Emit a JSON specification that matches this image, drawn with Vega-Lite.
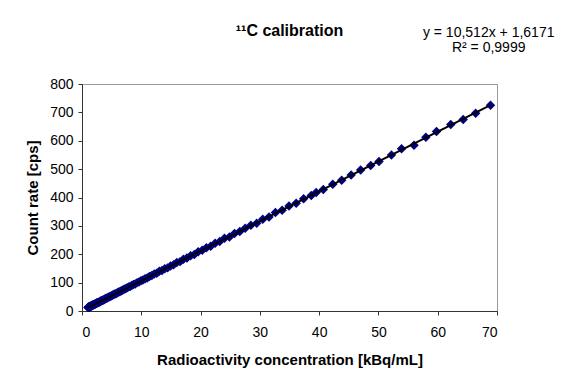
{
  "$schema": "https://vega.github.io/schema/vega-lite/v6.json",
  "autosize": "none",
  "width": 415,
  "height": 227,
  "padding": {"left": 82, "top": 84, "right": 73, "bottom": 78},
  "background": "white",
  "config": {
    "font": "Liberation Sans",
    "view": {"stroke": "#999999", "strokeWidth": 1},
    "axis": {
      "grid": false,
      "domainColor": "#333333",
      "tickColor": "#333333",
      "tickSize": 4,
      "labelFont": "Liberation Sans",
      "labelFontSize": 14,
      "labelColor": "black",
      "titleFont": "Liberation Sans",
      "titleFontSize": 15,
      "titleFontWeight": "bold",
      "titleColor": "black"
    }
  },
  "title": {
    "text": "¹¹C calibration",
    "font": "Liberation Sans",
    "fontSize": 16,
    "fontWeight": "bold",
    "color": "black",
    "anchor": "middle",
    "frame": "group",
    "baseline": "alphabetic",
    "offset": -26
  },
  "data": {
    "values": [
      {"activity": 68.9, "rate": 725},
      {"activity": 66.4, "rate": 697},
      {"activity": 64.3, "rate": 675},
      {"activity": 62.2, "rate": 657},
      {"activity": 59.8, "rate": 633},
      {"activity": 58.0, "rate": 612},
      {"activity": 56.0, "rate": 584},
      {"activity": 53.9, "rate": 572},
      {"activity": 52.2, "rate": 550},
      {"activity": 50.1, "rate": 527},
      {"activity": 48.7, "rate": 513},
      {"activity": 47.0, "rate": 497},
      {"activity": 45.4, "rate": 479},
      {"activity": 43.8, "rate": 461},
      {"activity": 42.3, "rate": 447},
      {"activity": 40.7, "rate": 428},
      {"activity": 39.5, "rate": 418},
      {"activity": 38.67, "rate": 407},
      {"activity": 37.38, "rate": 396},
      {"activity": 36.13, "rate": 380},
      {"activity": 34.92, "rate": 370},
      {"activity": 33.76, "rate": 355},
      {"activity": 32.63, "rate": 347},
      {"activity": 31.54, "rate": 331},
      {"activity": 30.49, "rate": 323},
      {"activity": 29.47, "rate": 309},
      {"activity": 28.49, "rate": 302},
      {"activity": 27.53, "rate": 292},
      {"activity": 26.61, "rate": 280},
      {"activity": 25.72, "rate": 273},
      {"activity": 24.87, "rate": 261},
      {"activity": 24.04, "rate": 256},
      {"activity": 23.23, "rate": 245},
      {"activity": 22.46, "rate": 239},
      {"activity": 21.71, "rate": 228},
      {"activity": 20.98, "rate": 223},
      {"activity": 20.28, "rate": 214},
      {"activity": 19.6, "rate": 209},
      {"activity": 18.95, "rate": 199},
      {"activity": 18.32, "rate": 195},
      {"activity": 17.7, "rate": 187},
      {"activity": 17.11, "rate": 182},
      {"activity": 16.54, "rate": 174},
      {"activity": 15.99, "rate": 171},
      {"activity": 15.46, "rate": 163},
      {"activity": 14.94, "rate": 159},
      {"activity": 14.44, "rate": 152},
      {"activity": 13.96, "rate": 149},
      {"activity": 13.49, "rate": 143},
      {"activity": 13.04, "rate": 140},
      {"activity": 12.61, "rate": 133},
      {"activity": 12.18, "rate": 130},
      {"activity": 11.78, "rate": 125},
      {"activity": 11.38, "rate": 122},
      {"activity": 11.0, "rate": 116},
      {"activity": 10.64, "rate": 114},
      {"activity": 10.28, "rate": 109},
      {"activity": 9.94, "rate": 107},
      {"activity": 9.61, "rate": 102},
      {"activity": 9.29, "rate": 100},
      {"activity": 8.98, "rate": 95},
      {"activity": 8.68, "rate": 93},
      {"activity": 8.39, "rate": 90},
      {"activity": 8.11, "rate": 86},
      {"activity": 7.84, "rate": 85},
      {"activity": 7.57, "rate": 81},
      {"activity": 7.32, "rate": 78},
      {"activity": 7.08, "rate": 77},
      {"activity": 6.84, "rate": 73},
      {"activity": 6.61, "rate": 71},
      {"activity": 6.39, "rate": 68},
      {"activity": 6.18, "rate": 67},
      {"activity": 5.97, "rate": 64},
      {"activity": 5.77, "rate": 62},
      {"activity": 5.58, "rate": 60},
      {"activity": 5.39, "rate": 59},
      {"activity": 5.21, "rate": 56},
      {"activity": 5.04, "rate": 55},
      {"activity": 4.87, "rate": 52},
      {"activity": 4.71, "rate": 51},
      {"activity": 4.55, "rate": 49},
      {"activity": 4.4, "rate": 48},
      {"activity": 4.25, "rate": 46},
      {"activity": 4.11, "rate": 45},
      {"activity": 3.97, "rate": 43},
      {"activity": 3.84, "rate": 42},
      {"activity": 3.71, "rate": 40},
      {"activity": 3.59, "rate": 39},
      {"activity": 3.47, "rate": 38},
      {"activity": 3.35, "rate": 37},
      {"activity": 3.24, "rate": 35},
      {"activity": 3.13, "rate": 35},
      {"activity": 3.03, "rate": 33},
      {"activity": 2.93, "rate": 32},
      {"activity": 2.83, "rate": 31},
      {"activity": 2.73, "rate": 30},
      {"activity": 2.64, "rate": 29},
      {"activity": 2.55, "rate": 28},
      {"activity": 2.47, "rate": 28},
      {"activity": 2.39, "rate": 27},
      {"activity": 2.31, "rate": 26},
      {"activity": 2.23, "rate": 25},
      {"activity": 2.16, "rate": 24},
      {"activity": 2.08, "rate": 23},
      {"activity": 2.01, "rate": 23},
      {"activity": 1.95, "rate": 22},
      {"activity": 1.88, "rate": 21},
      {"activity": 1.82, "rate": 21},
      {"activity": 1.76, "rate": 20},
      {"activity": 1.7, "rate": 19},
      {"activity": 1.64, "rate": 19},
      {"activity": 1.59, "rate": 18},
      {"activity": 1.53, "rate": 18},
      {"activity": 1.48, "rate": 17},
      {"activity": 1.43, "rate": 17},
      {"activity": 1.39, "rate": 16},
      {"activity": 1.34, "rate": 16},
      {"activity": 1.3, "rate": 15},
      {"activity": 1.25, "rate": 15},
      {"activity": 1.21, "rate": 14},
      {"activity": 1.17, "rate": 14},
      {"activity": 1.13, "rate": 13},
      {"activity": 1.09, "rate": 13},
      {"activity": 1.06, "rate": 13},
      {"activity": 1.02, "rate": 12}
    ]
  },
  "encoding": {
    "x": {
      "field": "activity",
      "type": "quantitative",
      "scale": {"domain": [0, 70], "nice": false},
      "axis": {
        "values": [0, 10, 20, 30, 40, 50, 60, 70],
        "title": "Radioactivity concentration [kBq/mL]",
        "labelPadding": 10,
        "titlePadding": 13
      }
    },
    "y": {
      "field": "rate",
      "type": "quantitative",
      "scale": {"domain": [0, 800], "nice": false},
      "axis": {
        "values": [0, 100, 200, 300, 400, 500, 600, 700, 800],
        "title": "Count rate [cps]",
        "labelPadding": 5,
        "titlePadding": 9
      }
    }
  },
  "layer": [
    {
      "mark": {"type": "point", "shape": "diamond", "filled": true, "size": 90, "color": "#000080", "opacity": 1}
    },
    {
      "transform": [{"regression": "rate", "on": "activity"}],
      "mark": {"type": "line", "color": "black", "strokeWidth": 2}
    },
    {
      "transform": [{"filter": "datum.activity > 68"}],
      "mark": {
        "type": "text",
        "text": ["y = 10,512x + 1,6171", "R² = 0,9999"],
        "align": "center",
        "baseline": "alphabetic",
        "lineHeight": 15,
        "font": "Liberation Sans",
        "fontSize": 14,
        "color": "black"
      },
      "encoding": {
        "x": {"datum": 68.6, "type": "quantitative"},
        "y": {"datum": 964, "type": "quantitative"}
      }
    }
  ]
}
